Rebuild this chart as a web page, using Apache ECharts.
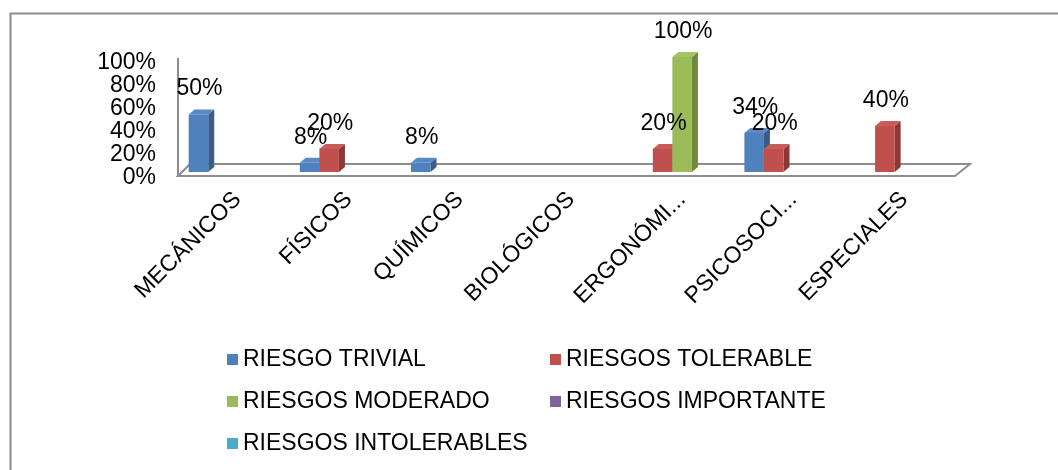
<!DOCTYPE html>
<html>
<head>
<meta charset="utf-8">
<script src="https://cdn.jsdelivr.net/npm/echarts@6/dist/echarts.min.js"></script>
<style>
  html, body { margin: 0; padding: 0; background: #fff; }
  #chart { width: 1058px; height: 470px; }
</style>
</head>
<body>
<div id="chart"></div>
<script>
// Risk categories and share of each risk level per category
const categories = ['MECÁNICOS', 'FÍSICOS', 'QUÍMICOS', 'BIOLÓGICOS', 'ERGONÓMICOS', 'PSICOSOCIALES', 'ESPECIALES'];
const seriesNames = ['RIESGO TRIVIAL', 'RIESGOS TOLERABLE', 'RIESGOS MODERADO', 'RIESGOS IMPORTANTE', 'RIESGOS INTOLERABLES'];
const trivial      = [0.50, 0.08, 0.08, null, null, 0.34, null];
const tolerable    = [null, 0.20, null, null, 0.20, 0.20, 0.40];
const moderado     = [null, null, null, null, 1.00, null, null];
const importante   = [null, null, null, null, null, null, null];
const intolerables = [null, null, null, null, null, null, null];
const yTicks = [0, 0.2, 0.4, 0.6, 0.8, 1.0];

const seriesValues = [trivial, tolerable, moderado, importante, intolerables];
const frontColors = ['#4F81BD', '#C0504D', '#9BBB59', '#8064A2', '#4BACC6'];
const sideColors  = ['#385D8A', '#8C3836', '#71893F', '#5C4776', '#357D91'];
const topColors   = ['#5A8AC6', '#C95B58', '#A5C464', '#8A6EAC', '#56B5CF'];

const FONT = '"Liberation Sans", Arial, sans-serif';
const FS = 23;
const GAP = 0.12;      // share of the band left empty between clusters
const DX = 6, DY = 5;  // depth of the 3D bar faces

function pct(v) { return Math.round(v * 100) + '%'; }

// Horizontal extent of bar s inside the band of its category
function barSpan(s, api, cat) {
  const base = api.coord([cat, 0]);
  const band = api.size([1, 0])[0];
  const w = band * (1 - GAP) / seriesNames.length;
  const x0 = base[0] - band * (1 - GAP) / 2 + s * w;
  return [x0, x0 + w, base[1]];
}

function barRenderer(params, api) {
  const s = params.seriesIndex;
  const cat = api.value(0), val = api.value(1);
  const [x0, x1, yb] = barSpan(s, api, cat);
  const yt = api.coord([cat, val])[1];
  return {
    type: 'group',
    children: [
      { type: 'polygon', shape: { points: [[x1, yt], [x1 + DX, yt - DY], [x1 + DX, yb - DY], [x1, yb]] },
        style: { fill: sideColors[s] } },
      { type: 'polygon', shape: { points: [[x0, yt], [x0 + DX, yt - DY], [x1 + DX, yt - DY], [x1, yt]] },
        style: { fill: topColors[s] } },
      { type: 'rect', shape: { x: x0, y: yt, width: x1 - x0, height: yb - yt },
        style: { fill: frontColors[s] } }
    ]
  };
}

// Value labels live in their own series so they stay above every bar
function labelRenderer(params, api) {
  const s = params.seriesIndex - seriesNames.length;
  const cat = api.value(0), val = api.value(1);
  const [x0, x1] = barSpan(s, api, cat);
  const yt = api.coord([cat, val])[1];
  return {
    type: 'text',
    style: { x: (x0 + x1) / 2 + 1, y: yt - DY - 9, text: pct(val),
      fill: '#000', font: FS + 'px ' + FONT, align: 'center', verticalAlign: 'bottom' }
  };
}

function floorRenderer(params, api) {
  const band = api.size([1, 0])[0];
  const first = api.coord([0, 0]);
  const last = api.coord([categories.length - 1, 0]);
  const topY = api.coord([0, 1])[1];
  const L = first[0] - band / 2, R = last[0] + band / 2, Y = first[1];
  return {
    type: 'group',
    children: [
      { type: 'polygon', shape: { points: [[L - 4, Y + 4], [R - 5, Y + 4], [R + 10, Y - 8], [L + 8, Y - 8]] },
        style: { stroke: '#8c8c8c', lineWidth: 2, fill: '#fff' } },
      { type: 'line', shape: { x1: L - 4, y1: Y + 4, x2: L - 4, y2: topY + 1 },
        style: { stroke: '#8c8c8c', lineWidth: 2, fill: null } }
    ]
  };
}

const seriesData = seriesValues.map(vals =>
  vals.map((v, c) => (v == null ? null : [c, v])).filter(d => d));

const series = [];
seriesNames.forEach((name, i) => {
  series.push({
    name: name, type: 'custom', renderItem: barRenderer,
    itemStyle: { color: frontColors[i] }, encode: { x: 0, y: 1 }, z: 3,
    data: seriesData[i]
  });
});
seriesNames.forEach((name, i) => {
  series.push({
    name: name, type: 'custom', renderItem: labelRenderer,
    itemStyle: { color: frontColors[i] }, encode: { x: 0, y: 1 }, z: 6,
    data: seriesData[i]
  });
});
series.push({
  name: 'floor', type: 'custom', renderItem: floorRenderer,
  encode: { x: 0, y: 1 }, silent: true, z: 1, data: [[0, 0]]
});

const legendText = { fontFamily: FONT, fontSize: FS, color: '#000' };
const option = {
  animation: false,
  backgroundColor: '#fff',
  grid: { left: 182, right: 98, top: 57, bottom: 298, containLabel: false },
  xAxis: {
    type: 'category',
    data: categories,
    axisLine: { show: false },
    axisTick: { show: false },
    axisLabel: {
      interval: 0, rotate: 45, margin: 24, color: '#000',
      fontFamily: FONT, fontSize: FS,
      width: 154, overflow: 'truncate', ellipsis: '...'
    }
  },
  yAxis: {
    type: 'value',
    min: yTicks[0], max: yTicks[yTicks.length - 1], interval: 0.2,
    axisLine: { show: false },
    axisTick: { show: false },
    splitLine: { show: false },
    axisLabel: {
      margin: 26, color: '#000', fontFamily: FONT, fontSize: FS,
      verticalAlign: 'top', lineHeight: 12,
      formatter: v => pct(v)
    }
  },
  legend: [
    { data: [seriesNames[0], seriesNames[2], seriesNames[4]], orient: 'vertical',
      left: 227, top: 348, itemWidth: 11, itemHeight: 11, itemGap: 19,
      icon: 'rect', textStyle: legendText, padding: 0 },
    { data: [seriesNames[1], seriesNames[3]], orient: 'vertical',
      left: 550, top: 348, itemWidth: 11, itemHeight: 11, itemGap: 19,
      icon: 'rect', textStyle: legendText, padding: 0 }
  ],
  graphic: [
    { type: 'rect', left: 8, top: 11, shape: { width: 1070, height: 480 },
      style: { fill: null, stroke: '#8c8c8c', lineWidth: 2 }, silent: true, z: -1 }
  ],
  series: series
};

const chart = echarts.init(document.getElementById('chart'), null, { renderer: 'canvas' });
chart.setOption(option);
</script>
</body>
</html>
